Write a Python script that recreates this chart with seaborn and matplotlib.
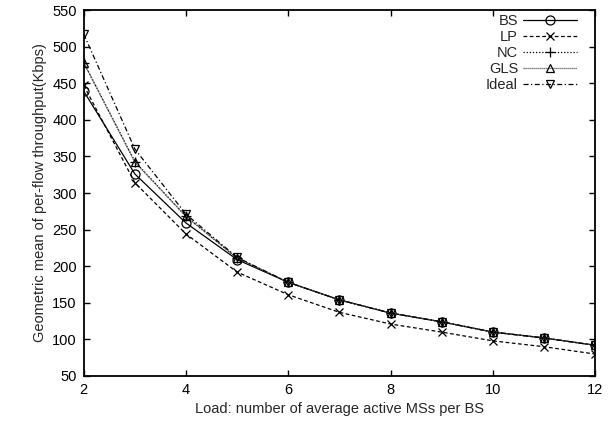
import pandas as pd
import matplotlib
matplotlib.use("Agg")
import matplotlib.pyplot as plt
import seaborn as sns

# Data
load = [2, 3, 4, 5, 6, 7, 8, 9, 10, 11, 12]
bs = [439, 326, 259, 209, 178, 154, 136, 124, 110, 102, 92]
lp = [447, 314, 244, 192, 161, 137, 121, 110, 98, 90, 80]
nc = [478, 343, 268, 211, 178, 154, 136, 124, 110, 102, 92]
gls = [478, 342, 268, 211, 178, 154, 136, 124, 110, 102, 92]
ideal = [517, 360, 271, 212, 178, 154, 136, 124, 110, 102, 92]

series = {"BS": bs, "LP": lp, "NC": nc, "GLS": gls, "Ideal": ideal}
styles = {
    "BS": dict(linestyle="-", marker="o", ms=6.5, color="black"),
    "LP": dict(linestyle=(0, (3, 2)), marker="x", ms=6, color="black"),
    "NC": dict(linestyle=(0, (1, 1.5)), marker="+", ms=7, color="black"),
    "GLS": dict(linestyle=(0, (1, 0.6)), marker="^", ms=6, color="#555555"),
    "Ideal": dict(linestyle=(0, (4, 2, 1, 2)), marker="v", ms=6, color="black"),
}

rows = []
for name, vals in series.items():
    for x, y in zip(load, vals):
        rows.append({"load": x, "value": y, "series": name})
df = pd.DataFrame(rows)

sns.set_style("ticks")
plt.rcParams["font.family"] = ["Liberation Sans", "DejaVu Sans"]
plt.rcParams["font.size"] = 10.5

fig = plt.figure(figsize=(6.16, 4.28), dpi=100)
ax = fig.add_axes([0.136, 0.1215, 0.83, 0.855])

for name in series:
    st = styles[name]
    sns.lineplot(data=df[df["series"] == name], x="load", y="value", ax=ax,
                 label=name, linewidth=0.9, markerfacecolor="none",
                 markeredgecolor="black", markeredgewidth=0.9, **st)

ax.set_xlim(2, 12)
ax.set_ylim(50, 550)
ax.set_xticks([2, 4, 6, 8, 10, 12])
ax.set_yticks(range(50, 551, 50))
ax.tick_params(direction="in", top=True, right=True, length=4, width=1,
               labelsize=10.5, colors="black", pad=5)
for sp in ax.spines.values():
    sp.set_visible(True)
    sp.set_linewidth(1.3)
    sp.set_color("black")

ax.set_xlabel("Load: number of average active MSs per BS", fontsize=10.5)
ax.set_ylabel("Geometric mean of per-flow throughput(Kbps)", fontsize=10.5)

leg = ax.legend(loc="upper right", bbox_to_anchor=(0.965, 0.99),
                markerfirst=False, frameon=False, borderpad=0,
                borderaxespad=0, handlelength=3.7, handletextpad=0.35,
                labelspacing=0.15, fontsize=10.5)

fig.savefig("out.png", dpi=100)
